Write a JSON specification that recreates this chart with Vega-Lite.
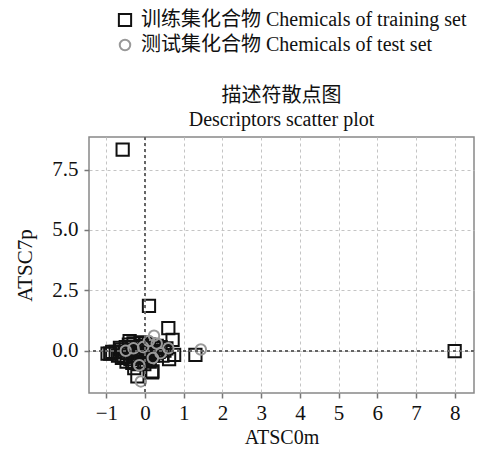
{
  "$schema": "https://vega.github.io/schema/vega-lite/v6.json",
  "autosize": "none",
  "padding": {"left": 89, "top": 137, "right": 15, "bottom": 57},
  "width": 385,
  "height": 256,
  "config": {
    "font": "Liberation Serif, Noto Sans CJK SC",
    "view": {"stroke": "#888", "strokeWidth": 1.5},
    "axis": {
      "grid": true,
      "gridDash": [3, 3], "gridColor": "#c4c4c4", "gridWidth": 1,
      "domain": false, "tickColor": "#777", "tickSize": 5, "tickWidth": 1.5,
      "labelFont": "Liberation Serif", "labelFontSize": 21, "labelColor": "#111",
      "titleFont": "Liberation Serif", "titleFontSize": 21, "titleFontWeight": "normal", "titleColor": "#111"
    }
  },
  "title": {
    "text": ["描述符散点图", "Descriptors scatter plot"],
    "font": "Liberation Serif, Noto Sans CJK SC",
    "fontSize": 20, "fontWeight": "normal", "color": "#111",
    "anchor": "middle", "offset": 8, "lineHeight": 24, "dy": 128
  },
  "data": {
    "values": [
      {"x": -0.58, "y": 8.33, "set": "train"},
      {"x": 0.1, "y": 1.86, "set": "train"},
      {"x": 0.6, "y": 0.94, "set": "train"},
      {"x": 0.71, "y": 0.45, "set": "train"},
      {"x": 8.0, "y": -0.02, "set": "train"},
      {"x": 1.3, "y": -0.17, "set": "train"},
      {"x": -0.97, "y": -0.12, "set": "train"},
      {"x": -0.9, "y": -0.12, "set": "train"},
      {"x": -0.85, "y": -0.05, "set": "train"},
      {"x": -0.76, "y": -0.05, "set": "train"},
      {"x": -0.7, "y": -0.2, "set": "train"},
      {"x": -0.65, "y": 0.12, "set": "train"},
      {"x": -0.62, "y": 0.05, "set": "train"},
      {"x": -0.6, "y": -0.3, "set": "train"},
      {"x": -0.55, "y": -0.25, "set": "train"},
      {"x": -0.5, "y": 0.15, "set": "train"},
      {"x": -0.48, "y": -0.45, "set": "train"},
      {"x": -0.45, "y": -0.1, "set": "train"},
      {"x": -0.42, "y": 0.25, "set": "train"},
      {"x": -0.4, "y": 0.4, "set": "train"},
      {"x": -0.38, "y": -0.35, "set": "train"},
      {"x": -0.35, "y": 0.05, "set": "train"},
      {"x": -0.33, "y": -0.5, "set": "train"},
      {"x": -0.3, "y": 0.3, "set": "train"},
      {"x": -0.28, "y": -0.72, "set": "train"},
      {"x": -0.25, "y": -0.2, "set": "train"},
      {"x": -0.22, "y": 0.15, "set": "train"},
      {"x": -0.2, "y": -1.06, "set": "train"},
      {"x": -0.18, "y": -0.45, "set": "train"},
      {"x": -0.15, "y": 0.05, "set": "train"},
      {"x": -0.12, "y": 0.35, "set": "train"},
      {"x": -0.1, "y": -0.25, "set": "train"},
      {"x": -0.08, "y": 0.2, "set": "train"},
      {"x": -0.05, "y": -0.1, "set": "train"},
      {"x": -0.02, "y": -0.55, "set": "train"},
      {"x": 0.0, "y": 0.3, "set": "train"},
      {"x": 0.02, "y": -0.3, "set": "train"},
      {"x": 0.05, "y": 0.1, "set": "train"},
      {"x": 0.08, "y": -0.15, "set": "train"},
      {"x": 0.1, "y": 0.25, "set": "train"},
      {"x": 0.12, "y": -0.45, "set": "train"},
      {"x": 0.15, "y": 0.0, "set": "train"},
      {"x": 0.18, "y": -0.9, "set": "train"},
      {"x": 0.19, "y": -0.85, "set": "train"},
      {"x": 0.2, "y": -0.2, "set": "train"},
      {"x": 0.25, "y": 0.1, "set": "train"},
      {"x": 0.28, "y": -0.1, "set": "train"},
      {"x": 0.3, "y": 0.2, "set": "train"},
      {"x": 0.35, "y": -0.05, "set": "train"},
      {"x": 0.4, "y": 0.15, "set": "train"},
      {"x": 0.45, "y": -0.2, "set": "train"},
      {"x": 0.5, "y": 0.0, "set": "train"},
      {"x": 0.55, "y": 0.1, "set": "train"},
      {"x": 0.62, "y": -0.35, "set": "train"},
      {"x": 0.75, "y": -0.17, "set": "train"},
      {"x": 1.44, "y": 0.05, "set": "test"},
      {"x": 0.23, "y": 0.62, "set": "test"},
      {"x": -0.11, "y": -1.27, "set": "test"},
      {"x": 0.3, "y": 0.3, "set": "test"},
      {"x": 0.1, "y": 0.4, "set": "test"},
      {"x": -0.3, "y": 0.1, "set": "test"},
      {"x": -0.15, "y": -0.6, "set": "test"},
      {"x": 0.4, "y": -0.1, "set": "test"},
      {"x": -0.5, "y": 0.0, "set": "test"},
      {"x": 0.2, "y": -0.3, "set": "test"},
      {"x": 0.6, "y": 0.1, "set": "test"},
      {"x": -0.05, "y": 0.15, "set": "test"}
    ]
  },
  "layer": [
    {
      "mark": {"type": "point", "filled": false, "strokeWidth": 2, "opacity": 1},
      "encoding": {
        "x": {
          "field": "x", "type": "quantitative",
          "scale": {"domain": [-1.45, 8.5], "nice": false, "zero": false},
          "axis": {"grid": true, "values": [-1, 0, 1, 2, 3, 4, 5, 6, 7, 8], "title": "ATSC0m", "titlePadding": 4, "titleFontSize": 20, "labelPadding": 4}
        },
        "y": {
          "field": "y", "type": "quantitative",
          "scale": {"domain": [-1.75, 8.85], "nice": false, "zero": false},
          "axis": {"grid": true, "values": [0, 2.5, 5, 7.5], "format": ".1f", "title": "ATSC7p", "titlePadding": 16, "labelPadding": 6}
        },
        "shape": {
          "field": "set", "type": "nominal",
          "scale": {"domain": ["train", "test"], "range": ["square", "circle"]},
          "legend": {
            "orient": "none", "legendX": 26, "legendY": -127, "title": null,
            "labelFontSize": 20, "labelFont": "Liberation Serif, Noto Sans CJK SC", "labelColor": "#111", "labelLimit": 500,
            "symbolStrokeWidth": 2, "rowPadding": 4, "labelOffset": 6, "symbolFillColor": "transparent",
            "labelExpr": "datum.value == 'train' ? '训练集化合物 Chemicals of training set' : '测试集化合物 Chemicals of test set'"
          }
        },
        "stroke": {
          "field": "set", "type": "nominal",
          "scale": {"domain": ["train", "test"], "range": ["#111", "#999"]}
        },
        "size": {
          "field": "set", "type": "nominal",
          "scale": {"domain": ["train", "test"], "range": [150, 110]}
        }
      }
    },
    {
      "mark": {"type": "rule", "strokeDash": [3, 3], "color": "#666", "strokeWidth": 1.2},
      "encoding": {"x": {"datum": 0, "type": "quantitative"}}
    },
    {
      "mark": {"type": "rule", "strokeDash": [3, 3], "color": "#666", "strokeWidth": 1.2},
      "encoding": {"y": {"datum": 0, "type": "quantitative"}}
    }
  ]
}
